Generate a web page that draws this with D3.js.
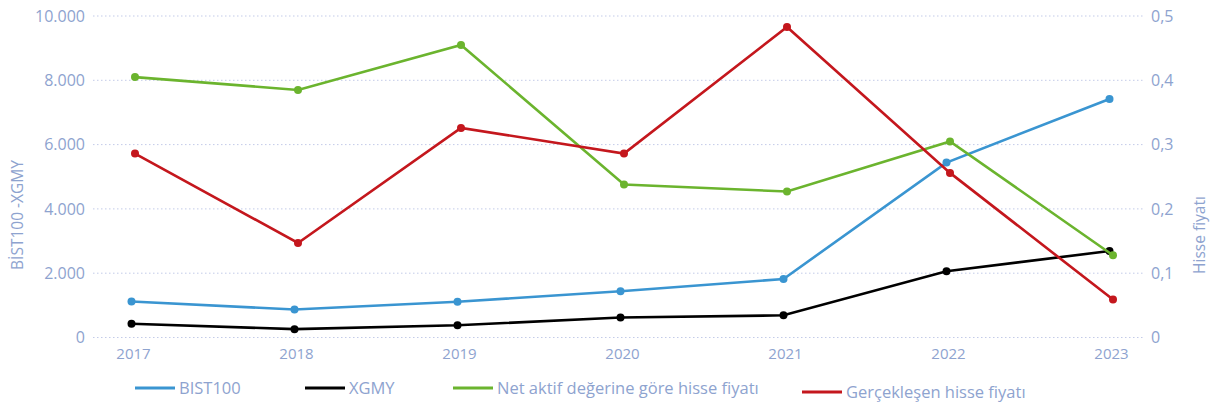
<html>
<head>
    <script src="https://d3js.org/d3.v7.min.js" charset="utf-8"></script>
</head>
<body style="margin:0">
    <script type="text/javascript">
        var width = 1216;
        var height = 406;

        var margin = { top: 16, right: 71, bottom: 68, left: 93 };

        // Data
        const years = ["2017", "2018", "2019", "2020", "2021", "2022", "2023"];
        const bist100 = [1120, 870, 1110, 1440, 1820, 5440, 7420];
        const xgmy = [430, 260, 380, 620, 690, 2060, 2690];
        const navPrice = [0.405, 0.385, 0.455, 0.238, 0.227, 0.305, 0.128];
        const realPrice = [0.286, 0.147, 0.326, 0.286, 0.483, 0.256, 0.059];
        const leftTicks = [0, 2000, 4000, 6000, 8000, 10000];
        const rightTicks = [0, 0.1, 0.2, 0.3, 0.4, 0.5];

        const axisColor = "#8ea3cf";
        const font = "'Open Sans', sans-serif";

        const svg = d3.select("body").append("svg")
            .attr("width", width)
            .attr("height", height)
            .style("font-family", font);

        // left-axis series sit a few px left of the right-axis ones
        const xLeft = d3.scalePoint().domain(years).range([131.5, 1109.5]);
        const xRight = d3.scalePoint().domain(years).range([135, 1113]);
        const xLabel = d3.scalePoint().domain(years).range([133, 1111]);

        const yLeft = d3.scaleLinear().domain([0, 10000]).range([height - margin.bottom - 0.5, margin.top]);
        const yRight = d3.scaleLinear().domain([0, 0.5]).range([height - margin.bottom - 0.5, margin.top]);

        // Grid lines
        svg.append("g")
            .selectAll("line")
            .data(leftTicks)
            .join("line")
                .attr("x1", margin.left)
                .attr("x2", width - margin.right)
                .attr("y1", d => yLeft(d))
                .attr("y2", d => yLeft(d))
                .attr("stroke", "#c3cbe8")
                .attr("stroke-width", 1)
                .attr("stroke-dasharray", "1.5,2.5");

        // Left axis
        const leftAxis = svg.append("g")
            .attr("transform", `translate(${margin.left - 8},0)`)
            .call(d3.axisLeft(yLeft).tickValues(leftTicks).tickSize(0).tickPadding(0)
                .tickFormat(d => d3.format(",")(d).replace(/,/g, ".")));
        leftAxis.select(".domain").remove();
        leftAxis.selectAll("text").attr("fill", axisColor).style("font-size", "16px").style("font-family", font);

        // Right axis
        const rightAxis = svg.append("g")
            .attr("transform", `translate(${width - margin.right + 6},0)`)
            .call(d3.axisRight(yRight).tickValues(rightTicks).tickSize(0).tickPadding(0)
                .tickFormat(d => d === 0 ? "0" : d3.format(".1f")(d).replace(".", ",")));
        rightAxis.select(".domain").remove();
        rightAxis.selectAll("text").attr("fill", axisColor).style("font-size", "16px").style("font-family", font);

        // Bottom axis
        const bottomAxis = svg.append("g")
            .attr("transform", `translate(0,${height - margin.bottom + 10})`)
            .call(d3.axisBottom(xLabel).tickSize(0).tickPadding(0));
        bottomAxis.select(".domain").remove();
        bottomAxis.selectAll("text").attr("fill", axisColor).style("font-size", "15px").style("font-family", font)
            .attr("dy", "0.71em");

        // Axis titles
        svg.append("text")
            .attr("transform", `translate(23, 215) rotate(-90)`)
            .attr("text-anchor", "middle")
            .attr("fill", axisColor)
            .style("font-size", "15.5px")
            .text("BİST100 -XGMY");

        svg.append("text")
            .attr("transform", `translate(1205, 235) rotate(-90)`)
            .attr("text-anchor", "middle")
            .attr("fill", axisColor)
            .style("font-size", "15.5px")
            .text("Hisse fiyatı");

        const series = [
            { name: "BIST100", values: bist100, color: "#3a95d1", x: xLeft, y: yLeft },
            { name: "XGMY", values: xgmy, color: "#000000", x: xLeft, y: yLeft },
            { name: "Net aktif değerine göre hisse fiyatı", values: navPrice, color: "#6bb42e", x: xRight, y: yRight },
            { name: "Gerçekleşen hisse fiyatı", values: realPrice, color: "#c4171d", x: xRight, y: yRight }
        ];

        series.forEach(s => {
            const line = d3.line()
                .x((d, i) => s.x(years[i]))
                .y(d => s.y(d));

            const g = svg.append("g");
            g.append("path")
                .datum(s.values)
                .attr("fill", "none")
                .attr("stroke", s.color)
                .attr("stroke-width", 2.6)
                .attr("d", line);

            g.selectAll("circle")
                .data(s.values)
                .join("circle")
                    .attr("cx", (d, i) => s.x(years[i]))
                    .attr("cy", d => s.y(d))
                    .attr("r", 4)
                    .attr("fill", s.color);
        });

        // Legend
        const legendX = [135, 305, 453, 802];
        const legendY = [388, 388, 388, 392];
        const legend = svg.append("g")
            .selectAll("g")
            .data(series)
            .join("g")
                .attr("transform", (d, i) => `translate(${legendX[i]},${legendY[i]})`);

        legend.append("line")
            .attr("x1", 0)
            .attr("x2", 40)
            .attr("stroke", d => d.color)
            .attr("stroke-width", 3);

        legend.append("text")
            .attr("x", 44)
            .attr("dy", "0.35em")
            .attr("fill", axisColor)
            .style("font-size", "16.5px")
            .text(d => d.name);
    </script>
</body>
</html>
